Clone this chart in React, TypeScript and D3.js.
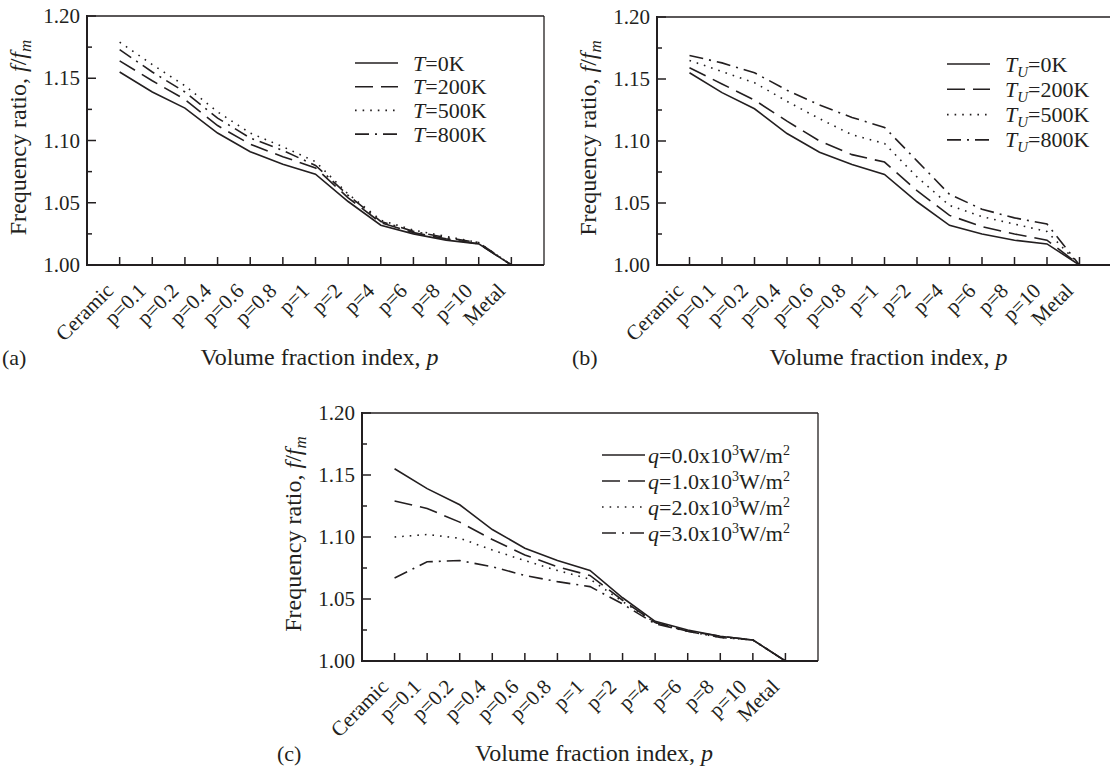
import React from "react";
import * as d3 from "d3";

// x categories (volume fraction index)
const categories = [
  "Ceramic", "p=0.1", "p=0.2", "p=0.4", "p=0.6", "p=0.8",
  "p=1", "p=2", "p=4", "p=6", "p=8", "p=10", "Metal",
];
const yTicks = [1.0, 1.05, 1.1, 1.15, 1.2];
const yMinor = [1.025, 1.075, 1.125, 1.175];

// reference curve (T=0K, q=0) shared by all panels
const base = [1.155, 1.139, 1.126, 1.106, 1.091, 1.081, 1.073, 1.051, 1.032, 1.025, 1.02, 1.017, 1.0];

// (a) uniform temperature T
const aT200 = [1.164, 1.148, 1.133, 1.112, 1.097, 1.087, 1.078, 1.054, 1.034, 1.026, 1.021, 1.017, 1.0];
const aT500 = [1.179, 1.161, 1.144, 1.123, 1.106, 1.095, 1.083, 1.057, 1.036, 1.028, 1.023, 1.018, 1.0];
const aT800 = [1.173, 1.155, 1.139, 1.118, 1.102, 1.092, 1.08, 1.056, 1.035, 1.027, 1.022, 1.018, 1.0];

// (b) upper surface temperature T_U
const bT200 = [1.159, 1.146, 1.133, 1.116, 1.1, 1.089, 1.083, 1.06, 1.04, 1.031, 1.025, 1.02, 1.0];
const bT500 = [1.165, 1.156, 1.147, 1.132, 1.118, 1.105, 1.098, 1.071, 1.048, 1.039, 1.033, 1.027, 1.0];
const bT800 = [1.169, 1.163, 1.155, 1.141, 1.129, 1.119, 1.111, 1.084, 1.057, 1.045, 1.038, 1.033, 1.0];

// (c) heat flux q
const cQ1 = [1.129, 1.123, 1.112, 1.098, 1.0855, 1.076, 1.069, 1.049, 1.031, 1.024, 1.02, 1.017, 1.0];
const cQ2 = [1.1, 1.102, 1.099, 1.0895, 1.081, 1.073, 1.066, 1.048, 1.031, 1.024, 1.019, 1.017, 1.0];
const cQ3 = [1.067, 1.08, 1.081, 1.076, 1.069, 1.064, 1.06, 1.046, 1.03, 1.024, 1.019, 1.017, 1.0];

const tLabels = ["0K", "200K", "500K", "800K"];
const qLabels = ["0.0", "1.0", "2.0", "3.0"];

const dash: Record<string, string | undefined> = {
  solid: undefined,
  dashed: "18,8",
  dotted: "1.6,6",
  dashdot: "14,6,2,6",
};
const styles = ["solid", "dashed", "dotted", "dashdot"];

const FONT = "'Liberation Serif', 'Times New Roman', serif";
const INK = "#231f20";

const panels = [
  {
    tag: "(a)", kind: "T",
    left: 87, right: 544, top: 16, bottom: 265,
    legend: { dx: 268, dy: 47, gap: 23.7 },
    series: [base, aT200, aT500, aT800],
  },
  {
    tag: "(b)", kind: "TU",
    left: 657, right: 1112, top: 17, bottom: 265,
    legend: { dx: 290, dy: 47, gap: 25.3 },
    series: [base, bT200, bT500, bT800],
  },
  {
    tag: "(c)", kind: "q",
    left: 362, right: 818, top: 413, bottom: 661,
    legend: { dx: 240, dy: 42, gap: 26 },
    series: [base, cQ1, cQ2, cQ3],
  },
];

function LegendText({ kind, i }: { kind: string; i: number }) {
  if (kind === "T") {
    return (
      <>
        <tspan fontStyle="italic">T</tspan>
        <tspan>={tLabels[i]}</tspan>
      </>
    );
  }
  if (kind === "TU") {
    return (
      <>
        <tspan fontStyle="italic">T</tspan>
        <tspan fontStyle="italic" fontSize={15} dy={5}>U</tspan>
        <tspan dy={-5}>={tLabels[i]}</tspan>
      </>
    );
  }
  return (
    <>
      <tspan fontStyle="italic">q</tspan>
      <tspan>={qLabels[i]}x10</tspan>
      <tspan fontSize={14} dy={-8}>3</tspan>
      <tspan dy={8}>W/m</tspan>
      <tspan fontSize={14} dy={-8}>2</tspan>
    </>
  );
}

function Panel({ p }: { p: (typeof panels)[number] }) {
  const x = d3.scaleLinear().domain([-1, categories.length]).range([p.left, p.right]);
  const y = d3.scaleLinear().domain([1.0, 1.2]).range([p.bottom, p.top]);
  const line = d3
    .line<number>()
    .x((_, i) => x(i))
    .y((d) => y(d));
  const lx = p.left + p.legend.dx;
  const ly = p.top + p.legend.dy;
  const cx = (p.left + p.right) / 2;

  return (
    <g fontFamily={FONT} fill={INK}>
      {/* frame */}
      <line x1={p.left} x2={p.right} y1={p.top} y2={p.top} stroke={INK} strokeWidth={1.3} />
      <line x1={p.right} x2={p.right} y1={p.top} y2={p.bottom} stroke={INK} strokeWidth={1.3} />
      <line x1={p.left} x2={p.right} y1={p.bottom} y2={p.bottom} stroke={INK} strokeWidth={2} />
      <line x1={p.left} x2={p.left} y1={p.top - 1} y2={p.bottom + 1} stroke={INK} strokeWidth={2} />

      {/* y ticks */}
      {yTicks.map((t) => (
        <g key={t}>
          <line x1={p.left} x2={p.left + 9} y1={y(t)} y2={y(t)} stroke={INK} strokeWidth={1.5} />
          <text x={p.left - 7} y={y(t) + 7} fontSize={21} textAnchor="end">
            {t.toFixed(2)}
          </text>
        </g>
      ))}
      {yMinor.map((t) => (
        <line key={t} x1={p.left} x2={p.left + 5} y1={y(t)} y2={y(t)} stroke={INK} strokeWidth={1.5} />
      ))}

      {/* x ticks */}
      {categories.map((c, i) => (
        <g key={c}>
          <line x1={x(i)} x2={x(i)} y1={p.bottom} y2={p.bottom - 8} stroke={INK} strokeWidth={1.5} />
          <text
            fontSize={21}
            textAnchor="end"
            transform={`translate(${x(i) - 5},${p.bottom + 27}) rotate(-45)`}
          >
            {c}
          </text>
        </g>
      ))}

      {/* data */}
      {p.series.map((s, i) => (
        <path
          key={i}
          d={line(s) || ""}
          fill="none"
          stroke={INK}
          strokeWidth={1.6}
          strokeDasharray={dash[styles[i]]}
        />
      ))}

      {/* legend */}
      {p.series.map((_, i) => (
        <g key={i}>
          <line
            x1={lx}
            x2={lx + 43}
            y1={ly + i * p.legend.gap}
            y2={ly + i * p.legend.gap}
            stroke={INK}
            strokeWidth={1.6}
            strokeDasharray={dash[styles[i]]}
          />
          <text
            x={lx + (p.kind === "q" ? 46 : 58)}
            y={ly + i * p.legend.gap + 7.5}
            fontSize={22}
          >
            <LegendText kind={p.kind} i={i} />
          </text>
        </g>
      ))}

      {/* axis titles */}
      <text
        fontSize={24}
        textAnchor="middle"
        transform={`translate(${p.left - 61},${(p.top + p.bottom) / 2 - 3}) rotate(-90)`}
      >
        Frequency ratio, <tspan fontStyle="italic">f</tspan>/<tspan fontStyle="italic">f</tspan>
        <tspan fontStyle="italic" fontSize={17} dy={5}>m</tspan>
      </text>
      <text x={cx + 4} y={p.bottom + 100} fontSize={24} textAnchor="middle">
        Volume fraction index, <tspan fontStyle="italic">p</tspan>
      </text>
      <text x={p.left - 85} y={p.bottom + 100} fontSize={22}>
        {p.tag}
      </text>
    </g>
  );
}

export default function App() {
  return (
    <svg
      width={1110}
      height={767}
      viewBox="0 0 1110 767"
      style={{ position: "absolute", left: 0, top: 0, background: "#fff" }}
    >
      <rect width={1110} height={767} fill="#fff" />
      {panels.map((p) => (
        <Panel key={p.tag} p={p} />
      ))}
    </svg>
  );
}
